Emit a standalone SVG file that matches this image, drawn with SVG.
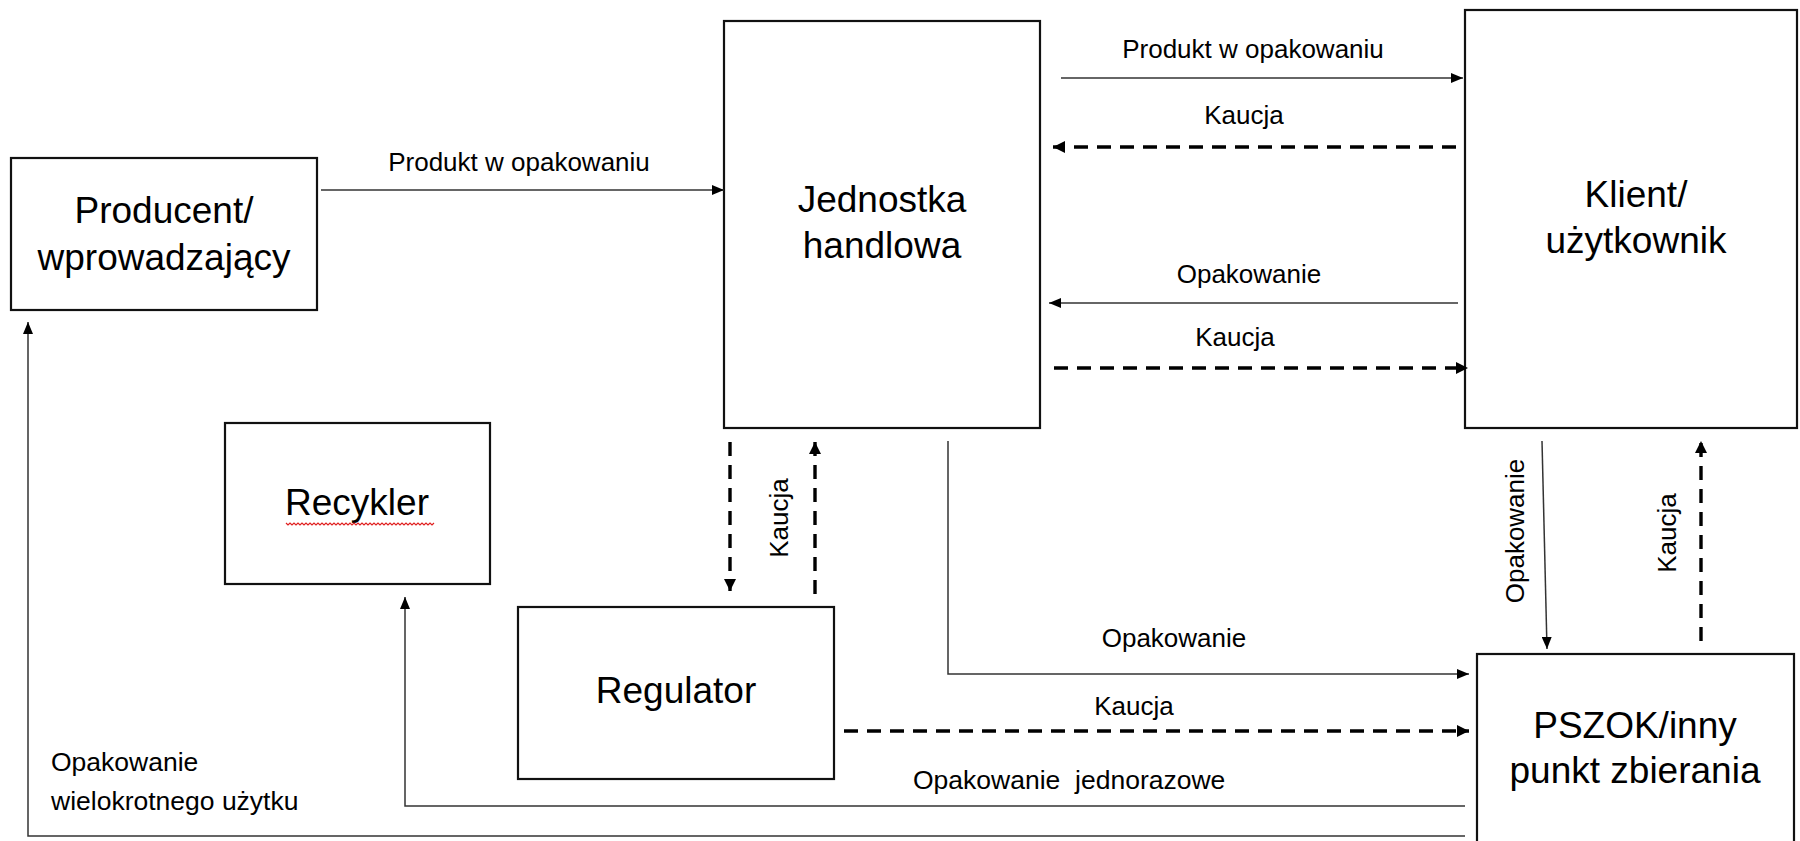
<svg xmlns="http://www.w3.org/2000/svg" width="1800" height="841" viewBox="0 0 1800 841">
<defs>
<style>
.box{fill:#fff;stroke:#111;stroke-width:2.2}
.nt{font-family:"Liberation Sans",Arial,sans-serif;font-size:37px;fill:#000;text-anchor:middle}
.lb{font-family:"Liberation Sans",Arial,sans-serif;font-size:26px;fill:#000;text-anchor:middle}
.lbl{font-family:"Liberation Sans",Arial,sans-serif;font-size:26.5px;fill:#000}
.sol{fill:none;stroke:#333;stroke-width:1.5}
.das{fill:none;stroke:#000;stroke-width:3.4;stroke-dasharray:14 9}
</style>
<marker id="ah" viewBox="0 0 12 10" refX="12" refY="5" markerWidth="12" markerHeight="10" markerUnits="userSpaceOnUse" orient="auto">
<path d="M0,0 L12,5 L0,10 z" fill="#000"/>
</marker>
<marker id="ahd" viewBox="0 0 12 12" refX="12" refY="6" markerWidth="12" markerHeight="12" markerUnits="userSpaceOnUse" orient="auto">
<path d="M0,0 L12,6 L0,12 z" fill="#000"/>
</marker>
</defs>
<rect width="1800" height="841" fill="#fff"/>

<g id="producent">
<rect class="box" x="11" y="158" width="306" height="152"/>
<text class="nt" x="164" y="223">Producent/</text>
<text class="nt" x="164" y="270">wprowadzający</text>
</g>

<g id="jednostka">
<rect class="box" x="724" y="21" width="316" height="407"/>
<text class="nt" x="882" y="212">Jednostka</text>
<text class="nt" x="882" y="258">handlowa</text>
</g>

<g id="klient">
<rect class="box" x="1465" y="10" width="332" height="418"/>
<text class="nt" x="1636" y="207">Klient/</text>
<text class="nt" x="1636" y="253">użytkownik</text>
</g>

<g id="recykler">
<rect class="box" x="225" y="423" width="265" height="161"/>
<text class="nt" x="357" y="515">Recykler</text>
<path d="M286,523 l2,2 l2,-2 l2,2 l2,-2 l2,2 l2,-2 l2,2 l2,-2 l2,2 l2,-2 l2,2 l2,-2 l2,2 l2,-2 l2,2 l2,-2 l2,2 l2,-2 l2,2 l2,-2 l2,2 l2,-2 l2,2 l2,-2 l2,2 l2,-2 l2,2 l2,-2 l2,2 l2,-2 l2,2 l2,-2 l2,2 l2,-2 l2,2 l2,-2 l2,2 l2,-2 l2,2 l2,-2 l2,2 l2,-2 l2,2 l2,-2 l2,2 l2,-2 l2,2 l2,-2 l2,2 l2,-2 l2,2 l2,-2 l2,2 l2,-2 l2,2 l2,-2 l2,2 l2,-2 l2,2 l2,-2 l2,2 l2,-2 l2,2 l2,-2 l2,2 l2,-2 l2,2 l2,-2 l2,2 l2,-2 l2,2 l2,-2 l2,2 l2,-2" fill="none" stroke="#e02020" stroke-width="1.2"/>
</g>

<g id="regulator">
<rect class="box" x="518" y="607" width="316" height="172"/>
<text class="nt" x="676" y="703">Regulator</text>
</g>

<g id="pszok">
<rect class="box" x="1477" y="654" width="317" height="200"/>
<text class="nt" x="1635" y="738">PSZOK/inny</text>
<text class="nt" x="1635" y="783">punkt zbierania</text>
</g>

<g id="connectors">
<path class="sol" d="M321,190 H724" marker-end="url(#ah)"/>
<path class="sol" d="M1061,78 H1463" marker-end="url(#ah)"/>
<path class="das" d="M1456,147 H1053" marker-end="url(#ahd)"/>
<path class="sol" d="M1458,303 H1049" marker-end="url(#ah)"/>
<path class="das" d="M1054,368 H1468" marker-end="url(#ahd)"/>
<path class="sol" d="M948,441 V674 H1469" marker-end="url(#ah)"/>
<path class="das" d="M844,731 H1469" marker-end="url(#ahd)"/>
<path class="sol" d="M1465,806 H405 V597" marker-end="url(#ah)"/>
<path class="sol" d="M1465,836 H28 V322" stroke="#555" marker-end="url(#ah)"/>
<path class="sol" d="M1542,441 L1547,649" marker-end="url(#ah)"/>
<path class="das" d="M1701,641 V441" marker-end="url(#ahd)"/>
<path class="das" d="M730,442 V591" marker-end="url(#ahd)"/>
<path class="das" d="M815,594 V442" marker-end="url(#ahd)"/>

<text class="lb" x="519" y="171">Produkt w opakowaniu</text>
<text class="lb" x="1253" y="58">Produkt w opakowaniu</text>
<text class="lb" x="1244" y="124">Kaucja</text>
<text class="lb" x="1249" y="283">Opakowanie</text>
<text class="lb" x="1235" y="346">Kaucja</text>
<text class="lb" x="1174" y="647">Opakowanie</text>
<text class="lb" x="1134" y="715">Kaucja</text>
<text class="lbl" x="913" y="789" xml:space="preserve">Opakowanie  jednorazowe</text>
<text class="lbl" x="51" y="771">Opakowanie</text>
<text class="lbl" x="51" y="810">wielokrotnego użytku</text>
<text class="lb" transform="translate(1524,531) rotate(-90)">Opakowanie</text>
<text class="lb" transform="translate(1676,533) rotate(-90)">Kaucja</text>
<text class="lb" transform="translate(788,518) rotate(-90)">Kaucja</text>
</g>
</svg>
